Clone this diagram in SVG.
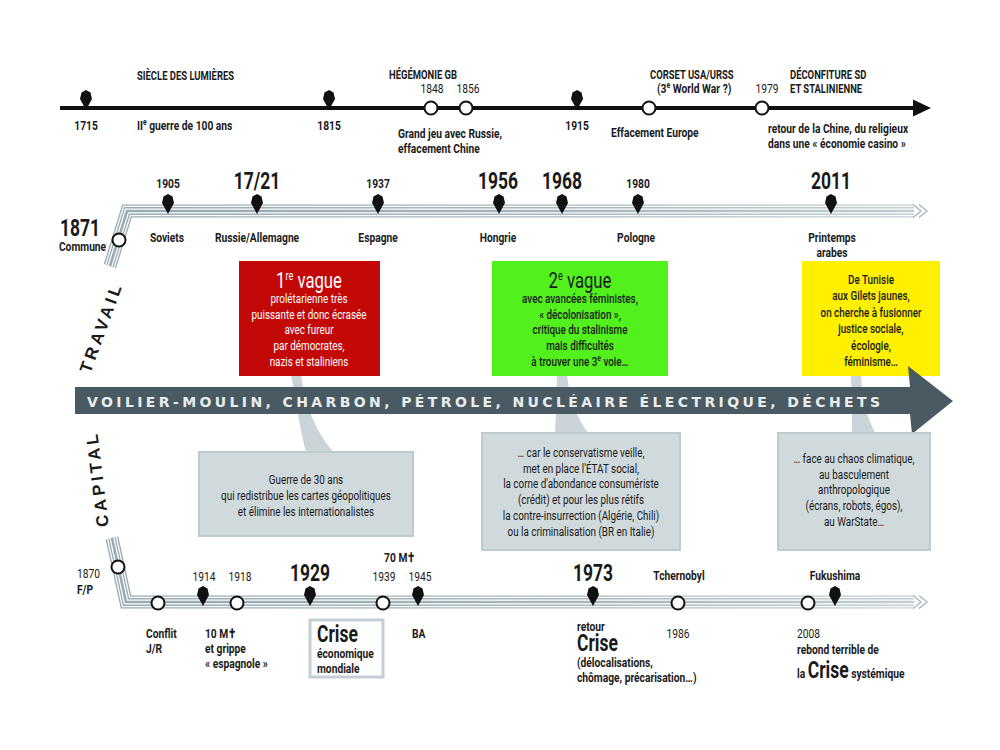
<svg xmlns="http://www.w3.org/2000/svg" xmlns:xlink="http://www.w3.org/1999/xlink" width="1000" height="750" viewBox="0 0 1000 750">
<defs>
<style>
text{font-family:Roboto,"Liberation Sans",sans-serif;fill:#1a1a1a}
text.k{transform-box:fill-box;transform-origin:left center;transform:scaleX(.76)}
text.k.c{transform-origin:center}
text.k.e{transform-origin:right center;text-anchor:end}
text.k.hd{transform:scaleX(.70)}
.c{text-anchor:middle}
.h{font-size:13.5px;font-weight:bold}
.hd{font-size:13.5px;font-weight:bold}
.big{font-size:23px;font-weight:bold}
.n{font-size:13.5px}
.bx{font-size:13px}
.md{font-weight:500}
.w{fill:#fff}
.ttl{font-size:22px}
.sup{font-size:9px}
.vert{font-family:"Liberation Sans","DejaVu Sans",sans-serif;font-size:17px;font-weight:bold;letter-spacing:3.5px;text-anchor:middle;fill:#1a1a1a}
.energy{font-family:"DejaVu Sans","Liberation Sans",sans-serif;font-size:14px;font-weight:bold;fill:#e9edee}
.circ{fill:#fff;stroke:#111;stroke-width:2}
.gbox{fill:#d0d9dc;stroke:#bdcad0;stroke-width:2}
.wedge{fill:#cbd5d9}
.band1{fill:none;stroke:url(#bandg);stroke-width:13}
.band2{fill:none;stroke:#fff;stroke-width:10.4}
.band3{fill:none;stroke:url(#bandg);stroke-width:7.8}
.band4{fill:none;stroke:#fff;stroke-width:5.2}
.band5{fill:none;stroke:url(#bandg);stroke-width:2.6}
.chev{fill:none;stroke:#a8b7be;stroke-width:1.4}
</style>
<linearGradient id="bandg" gradientUnits="userSpaceOnUse" x1="100" y1="0" x2="930" y2="0">
<stop offset="0" stop-color="#97a9b1"/>
<stop offset="0.6" stop-color="#a9b8bf"/>
<stop offset="1" stop-color="#c4d0d5"/>
</linearGradient>
<path id="pin" d="M0,0 L-6,-11 L-4.5,-17.5 L0,-20 L4.5,-17.5 L6,-11 Z" fill="#111"/>
</defs>
<rect x="0" y="0" width="1000" height="750" fill="#fff"/>

<g id="connectors">
<line x1="60" y1="108" x2="918" y2="108" stroke="#111" stroke-width="4"/>
<polygon points="913,99.5 931,108 913,116.5" fill="#111"/>
<g id="band-travail">
<polyline class="band1" points="110,266 127,211 914,211"/>
<polyline class="band2" points="110,266 127,211 914,211"/>
<polyline class="band3" points="110,266 127,211 914,211"/>
<polyline class="band4" points="110,266 127,211 914,211"/>
<polyline class="band5" points="110,266 127,211 914,211"/>
<polyline class="chev" points="913,204.5 921,211 913,217.5"/>
<polyline class="chev" points="919,204.5 927,211 919,217.5"/>
</g>
<g id="band-capital">
<polyline class="band1" points="112,538 126,602 914,602"/>
<polyline class="band2" points="112,538 126,602 914,602"/>
<polyline class="band3" points="112,538 126,602 914,602"/>
<polyline class="band4" points="112,538 126,602 914,602"/>
<polyline class="band5" points="112,538 126,602 914,602"/>
<polyline class="chev" points="913,595.5 921,602 913,608.5"/>
<polyline class="chev" points="919,595.5 927,602 919,608.5"/>
</g>
<path class="wedge" d="M291,374 Q298,420 306,453 L334,453 Q306,420 301,374 Z"/>
<path class="wedge" d="M557,374 Q556,410 555,434 L589,434 Q570,410 567,374 Z"/>
<path class="wedge" d="M851,374 Q852,410 852,434 L876,434 Q862,410 861,374 Z"/>
</g>

<g id="top-1715"><use xlink:href="#pin" x="86" y="110"/><text class="k h c" x="86" y="130">1715</text></g>
<g id="top-lumieres"><text class="k hd" x="137" y="80">SIÈCLE DES LUMIÈRES</text><text class="k h" x="137" y="130">II<tspan class="sup" dy="-5">e</tspan><tspan dy="5"> guerre de 100 ans</tspan></text></g>
<g id="top-1815"><use xlink:href="#pin" x="329" y="110"/><text class="k h c" x="329" y="130">1815</text></g>
<g id="top-hegemonie"><text class="k hd" x="389" y="79">HÉGÉMONIE GB</text>
<circle class="circ" cx="431" cy="108" r="6.5"/><circle class="circ" cx="466" cy="108" r="6.5"/>
<text class="k n c" x="432" y="93">1848</text><text class="k n c" x="468" y="93">1856</text>
<text class="k h" x="398" y="138">Grand jeu avec Russie,</text><text class="k h" x="398" y="153">effacement Chine</text></g>
<g id="top-1915"><use xlink:href="#pin" x="577" y="110"/><text class="k h c" x="577" y="130">1915</text></g>
<g id="top-corset"><circle class="circ" cx="649" cy="108" r="6.5"/>
<text class="k hd" x="650" y="79">CORSET USA/URSS</text><text class="k h" x="657" y="93">(3<tspan class="sup" dy="-5">e</tspan><tspan dy="5"> World War ?)</tspan></text>
<text class="k h" x="611" y="137">Effacement Europe</text></g>
<g id="top-1979"><circle class="circ" cx="762" cy="108" r="6.5"/><text class="k n c" x="767" y="93">1979</text>
<text class="k hd" x="790" y="79">DÉCONFITURE SD</text><text class="k hd" x="790" y="93">ET STALINIENNE</text>
<text class="k h" x="768" y="133">retour de la Chine, du religieux</text><text class="k h" x="768" y="148">dans une « économie casino »</text></g>

<g id="label-travail" transform="translate(101,327) rotate(-70)"><text class="vert" x="0" y="6">TRAVAIL</text></g>
<g id="tr-1871"><circle class="circ" cx="119" cy="240" r="6.5"/><text class="k big e" x="100" y="236">1871</text><text class="k h e" x="106" y="251">Commune</text></g>
<g id="tr-1905"><use xlink:href="#pin" x="168" y="214"/><text class="k h c" x="168" y="188">1905</text><text class="k h c" x="167" y="242">Soviets</text></g>
<g id="tr-1721"><use xlink:href="#pin" x="257" y="214"/><text class="k big c" x="257" y="189">17/21</text><text class="k h c" x="257" y="242">Russie/Allemagne</text></g>
<g id="tr-1937"><use xlink:href="#pin" x="378" y="214"/><text class="k h c" x="378" y="188">1937</text><text class="k h c" x="378" y="242">Espagne</text></g>
<g id="tr-1956"><use xlink:href="#pin" x="499" y="214"/><text class="k big c" x="498" y="189">1956</text><text class="k h c" x="498" y="242">Hongrie</text></g>
<g id="tr-1968"><use xlink:href="#pin" x="562" y="214"/><text class="k big c" x="562" y="189">1968</text></g>
<g id="tr-1980"><use xlink:href="#pin" x="638" y="214"/><text class="k h c" x="638" y="188">1980</text><text class="k h c" x="636" y="242">Pologne</text></g>
<g id="tr-2011"><use xlink:href="#pin" x="831" y="214"/><text class="k big c" x="831" y="189">2011</text><text class="k h c" x="832" y="242">Printemps</text><text class="k h c" x="832" y="257">arabes</text></g>

<g id="vague1"><rect x="239" y="261" width="141" height="115" fill="#c30808"/>
<text class="k w c ttl" x="309" y="288">1<tspan class="sup w" dy="-8" style="font-size:12px">re</tspan><tspan dy="8"> vague</tspan></text>
<text class="k w c bx" x="309" y="303">prolétarienne très</text>
<text class="k w c bx" x="309" y="319">puissante et donc écrasée</text>
<text class="k w c bx" x="309" y="334">avec fureur</text>
<text class="k w c bx" x="309" y="350">par démocrates,</text>
<text class="k w c bx" x="309" y="366">nazis et staliniens</text></g>
<g id="vague2"><rect x="492" y="261" width="176" height="115" fill="#52f01c"/>
<text class="k c ttl" x="580" y="288">2<tspan class="sup" dy="-8" style="font-size:12px">e</tspan><tspan dy="8"> vague</tspan></text>
<text class="k c bx md" x="580" y="303">avec avancées féministes,</text>
<text class="k c bx md" x="580" y="319">« décolonisation »,</text>
<text class="k c bx md" x="580" y="334">critique du stalinisme</text>
<text class="k c bx md" x="580" y="350">mais difficultés</text>
<text class="k c bx md" x="580" y="366">à trouver une 3<tspan class="sup" dy="-5">e</tspan><tspan dy="5"> voie…</tspan></text></g>
<g id="vague3"><rect x="802" y="261" width="138" height="115" fill="#fff000"/>
<text class="k c bx md" x="871" y="284">De Tunisie</text>
<text class="k c bx md" x="871" y="300">aux Gilets jaunes,</text>
<text class="k c bx md" x="871" y="317">on cherche à fusionner</text>
<text class="k c bx md" x="871" y="333">justice sociale,</text>
<text class="k c bx md" x="871" y="350">écologie,</text>
<text class="k c bx md" x="871" y="366">féminisme…</text></g>

<g id="energy-arrow"><path d="M75,387 L910,387 L908,366 L953,401 L912,434 L910,414 L75,414 Z" fill="#4a5a62"/>
<text class="energy" x="87" y="407" textLength="793" lengthAdjust="spacing">VOILIER-MOULIN, CHARBON, PÉTROLE, NUCLÉAIRE ÉLECTRIQUE, DÉCHETS</text></g>

<g id="capital-1"><rect class="gbox" x="199" y="452" width="214" height="84"/>
<text class="k c bx" x="306" y="484">Guerre de 30 ans</text>
<text class="k c bx" x="306" y="500">qui redistribue les cartes géopolitiques</text>
<text class="k c bx" x="306" y="516">et élimine les internationalistes</text></g>
<g id="capital-2"><rect class="gbox" x="482" y="433" width="198" height="117"/>
<text class="k c bx" x="581" y="457">… car le conservatisme veille,</text>
<text class="k c bx" x="581" y="473">met en place l'ÉTAT social,</text>
<text class="k c bx" x="581" y="488">la corne d'abondance consumériste</text>
<text class="k c bx" x="581" y="504">(crédit) et pour les plus rétifs</text>
<text class="k c bx" x="581" y="520">la contre-insurrection (Algérie, Chili)</text>
<text class="k c bx" x="581" y="536">ou la criminalisation (BR en Italie)</text></g>
<g id="capital-3"><rect class="gbox" x="778" y="433" width="152" height="117"/>
<text class="k c bx" x="854" y="463">… face au chaos climatique,</text>
<text class="k c bx" x="854" y="479">au basculement</text>
<text class="k c bx" x="854" y="494">anthropologique</text>
<text class="k c bx" x="854" y="510">(écrans, robots, égos),</text>
<text class="k c bx" x="854" y="526">au WarState…</text></g>
<g id="label-capital" transform="translate(97,479) rotate(-97)"><text class="vert" x="0" y="6">CAPITAL</text></g>

<g id="ca-1870"><circle class="circ" cx="118" cy="567" r="6.5"/><text class="k n" x="77" y="578">1870</text><text class="k h" x="77" y="594">F/P</text></g>
<g id="ca-conflit"><circle class="circ" cx="158" cy="603" r="6.5"/><text class="k h" x="146" y="638">Conflit</text><text class="k h" x="146" y="653">J/R</text></g>
<g id="ca-1914"><use xlink:href="#pin" x="203" y="606"/><text class="k n c" x="204" y="581">1914</text>
<text class="k h" x="205" y="638">10 M✝</text><text class="k h" x="205" y="653">et grippe</text><text class="k h" x="205" y="668">« espagnole »</text></g>
<g id="ca-1918"><circle class="circ" cx="237" cy="603" r="6.5"/><text class="k n c" x="240" y="581">1918</text></g>
<g id="ca-1929"><use xlink:href="#pin" x="310" y="606"/><text class="k big c" x="310" y="581">1929</text>
<rect x="310" y="620" width="73" height="57" fill="#fff" stroke="#c3cfd4" stroke-width="3"/>
<text class="k big" x="317" y="642">Crise</text><text class="k h" x="317" y="658">économique</text><text class="k h" x="317" y="673">mondiale</text></g>
<g id="ca-1939"><circle class="circ" cx="383" cy="603" r="6.5"/><text class="k n c" x="384" y="581">1939</text><text class="k h c" x="400" y="562">70 M✝</text></g>
<g id="ca-1945"><use xlink:href="#pin" x="418" y="606"/><text class="k n c" x="420" y="581">1945</text><text class="k h" x="412" y="638">BA</text></g>
<g id="ca-1973"><use xlink:href="#pin" x="593" y="606"/><text class="k big c" x="593" y="581">1973</text>
<text class="k h" x="577" y="631">retour</text><text class="k big" x="577" y="651">Crise</text>
<text class="k h" x="577" y="667">(délocalisations,</text><text class="k h" x="577" y="682">chômage, précarisation…)</text></g>
<g id="ca-1986"><circle class="circ" cx="678" cy="603" r="6.5"/><text class="k h c" x="679" y="580">Tchernobyl</text><text class="k n c" x="678" y="638">1986</text></g>
<g id="ca-2008"><circle class="circ" cx="808" cy="603" r="6.5"/><text class="k n" x="797" y="638">2008</text>
<text class="k h" x="797" y="654">rebond terrible de</text>
<text class="k h" x="797" y="678">la <tspan class="big">Crise</tspan> systémique</text></g>
<g id="ca-2011"><use xlink:href="#pin" x="835" y="606"/><text class="k h c" x="835" y="580">Fukushima</text></g>
</svg>
